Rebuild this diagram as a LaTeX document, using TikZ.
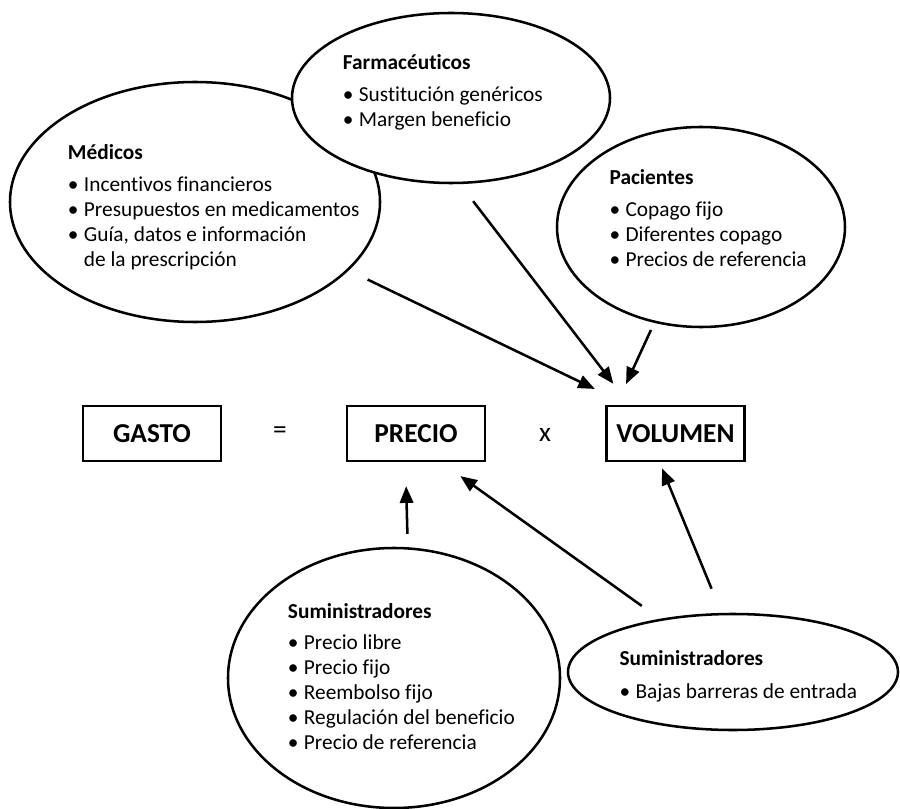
\documentclass[tikz,border=0pt]{standalone}
\usepackage{fontspec}
\setmainfont{Carlito}[Ligatures=NoCommon]
\usepackage{tikz}
\usetikzlibrary{arrows.meta,shapes.geometric}
\newcommand{\itm}[1]{\makebox[12pt][l]{\textbullet}#1}
\newcommand{\cont}[1]{\hspace*{12pt}#1}
\begin{document}
\begin{tikzpicture}[x=0.75pt,y=-0.75pt,line width=1.9pt,
  ell/.style={draw,ellipse,fill=white,inner sep=0pt},
  box/.style={draw,rectangle,minimum width=103.5pt,minimum height=41.25pt,inner sep=0pt,font=\fontsize{20.5}{24}\selectfont\bfseries},
  op/.style={inner sep=0pt,font=\fontsize{20.5}{24}\selectfont},
  txt/.style={anchor=base west,inner sep=0pt,font=\fontsize{16}{18.75}\selectfont},
  arr/.style={-{Triangle[length=12.5pt,width=10pt]}}]
\useasboundingbox (0,0) rectangle (900,809);
% ellipses
\node[ell,minimum width=277.5pt,minimum height=180pt] (med) at (195,202) {};
\node[ell,minimum width=238.5pt,minimum height=127.5pt] (farm) at (451,98) {};
\node[ell,minimum width=216pt,minimum height=150pt] (pac) at (701,227) {};
\node[ell,minimum width=249pt,minimum height=195pt] (sumA) at (394,678) {};
\node[ell,minimum width=247.5pt,minimum height=87pt] (sumB) at (733,672) {};
% texts
\node[txt] (medTxt) at (66.7,160) {\begin{tabular}[t]{@{}l@{}}\textbf{Médicos}\\[4.9pt]
  \itm{Incentivos financieros}\\
  \itm{Presupuestos en medicamentos}\\
  \itm{Guía, datos e información}\\
  \cont{de la prescripción}\end{tabular}};
\node[txt] (farmTxt) at (341.7,70) {\begin{tabular}[t]{@{}l@{}}\textbf{Farmacéuticos}\\[4.9pt]
  \itm{Sustitución genéricos}\\
  \itm{Margen beneficio}\end{tabular}};
\node[txt] (pacTxt) at (608.3,185) {\begin{tabular}[t]{@{}l@{}}\textbf{Pacientes}\\[4.9pt]
  \itm{Copago fijo}\\
  \itm{Diferentes copago}\\
  \itm{Precios de referencia}\end{tabular}};
\node[txt] (sumATxt) at (286.7,618.3) {\begin{tabular}[t]{@{}l@{}}\textbf{Suministradores}\\[4.9pt]
  \itm{Precio libre}\\
  \itm{Precio fijo}\\
  \itm{Reembolso fijo}\\
  \itm{Regulación del beneficio}\\
  \itm{Precio de referencia}\end{tabular}};
\node[txt] (sumBTxt) at (618.3,665) {\begin{tabular}[t]{@{}l@{}}\textbf{Suministradores}\\[6pt]
  \itm{Bajas barreras de entrada}\end{tabular}};
% equation
\node[box] (gasto) at (152,433.5) {GASTO};
\node[op] (eq) at (280,433) {=};
\node[box] (precio) at (416,433.5) {PRECIO};
\node[op] (por) at (545,435) {x};
\node[box] (vol) at (675.5,433.5) {VOLUMEN};
% arrows
\draw[arr,shorten <=15.75pt,shorten >=27.3pt] (med.336.6) -- (vol.149);
\draw[arr,shorten <=16.1pt,shorten >=19.8pt] (farm.276.7) -- (vol.148.3);
\draw[arr,shorten <=5.85pt,shorten >=17.1pt] (pac.244.2) -- (vol.154.05);
\draw[arr,shorten <=10pt,shorten >=18pt] (sumA.84.7) -- (precio.250);
\draw[arr,shorten <=16.6pt,shorten >=17.85pt] (sumB.144.6) -- (precio.311.9);
\draw[arr,shorten <=19.6pt,shorten >=4.9pt] (sumB.101.1) -- (vol.241.6);
\end{tikzpicture}
\end{document}
